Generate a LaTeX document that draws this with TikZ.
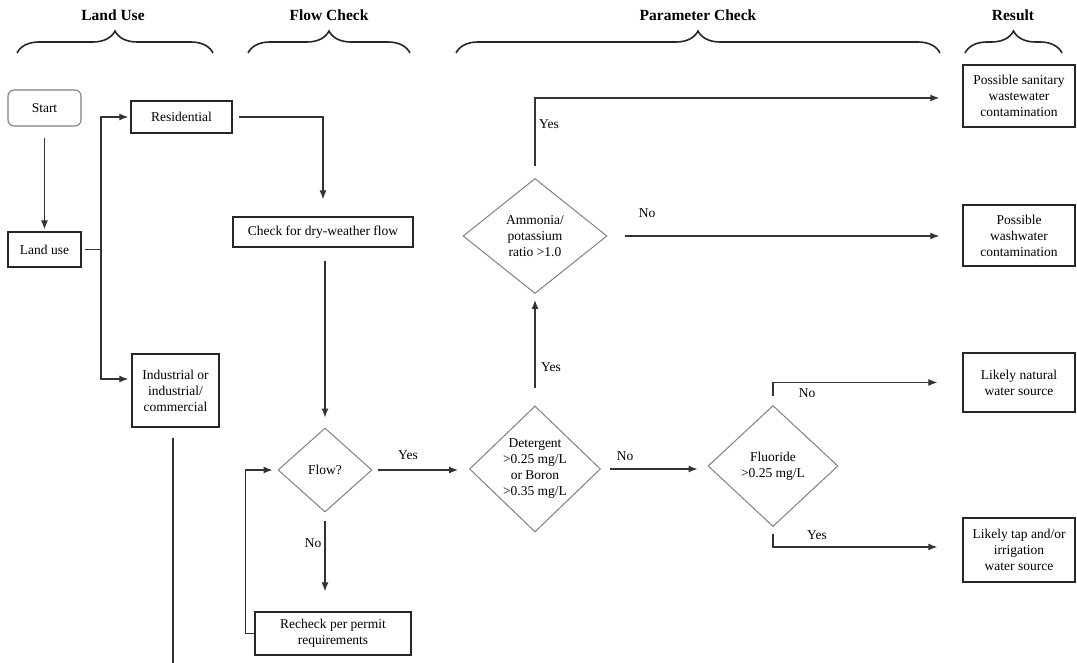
\documentclass[tikz,border=0pt]{standalone}
\usepackage{fontspec}
\setmainfont{Liberation Serif}
\usetikzlibrary{shapes.geometric,arrows.meta,decorations.pathreplacing}
\begin{document}
\begin{tikzpicture}[x=1pt,y=-1pt,
  every node/.style={font=\fontsize{13.5}{16}\selectfont, text=black, align=center},
  box/.style={draw=black!85, line width=1.4pt, inner sep=0pt},
  rbox/.style={draw=black!50, line width=1.1pt, rounded corners=6pt, inner sep=0pt},
  dia/.style={draw=black!50, line width=1pt, shape=diamond, inner sep=0pt},
  lbl/.style={inner sep=1pt},
  hdr/.style={font=\fontsize{15.5}{18}\selectfont\bfseries, text=black},
  conn/.style={draw=black!80, line width=1.2pt},
  arr/.style={conn, -{Latex[length=9pt,width=7pt]}},
  brc/.style={draw=black!85, line width=1.6pt, decorate, decoration={brace, amplitude=22pt}}]
\useasboundingbox (0,0) rectangle (1077,663);
\fill[white] (0,0) rectangle (1077,663);

% headers and braces
\node[hdr] (hLand) at (113,15) {Land Use};
\node[hdr] (hFlow) at (329,15) {Flow Check};
\node[hdr] (hPar) at (698,15) {Parameter Check};
\node[hdr] (hRes) at (1013,15) {Result};
\draw[brc] (17,53) -- (213,53);
\draw[brc] (248,53) -- (410,53);
\draw[brc] (456,53) -- (940,53);
\draw[brc] (965,53) -- (1062,53);

% nodes
\node[rbox, minimum width=73pt, minimum height=36pt] (start) at (44.5,108) {Start};
\node[box, minimum width=73pt, minimum height=35pt] (landuse) at (44.5,249.5) {Land use};
\node[box, minimum width=101pt, minimum height=32pt] (resid) at (181.5,117) {Residential};
\node[box, minimum width=87pt, minimum height=73pt] (indus) at (175.5,390.5) {Industrial or\\industrial/\\commercial};
\node[box, minimum width=180pt, minimum height=30pt] (check) at (323,232) {Check for dry-weather flow};
\node[dia, minimum width=94pt, minimum height=84pt] (flow) at (325,470) {Flow?};
\node[box, minimum width=156pt, minimum height=43pt] (recheck) at (333,633.5) {Recheck per permit\\requirements};
\node[dia, minimum width=131pt, minimum height=126pt] (deterg) at (535,469) {Detergent\\>0.25 mg/L\\or Boron\\>0.35 mg/L};
\node[dia, minimum width=144pt, minimum height=115pt] (ammonia) at (535,236) {Ammonia/\\potassium\\ratio >1.0};
\node[dia, minimum width=130pt, minimum height=121pt] (fluoride) at (773,466) {Fluoride\\>0.25 mg/L};
\node[box, minimum width=112pt, minimum height=62pt] (sanitary) at (1019,96) {Possible sanitary\\wastewater\\contamination};
\node[box, minimum width=112pt, minimum height=61pt] (wash) at (1019,235.5) {Possible\\washwater\\contamination};
\node[box, minimum width=112pt, minimum height=59pt] (natural) at (1019,382.5) {Likely natural\\water source};
\node[box, minimum width=112pt, minimum height=64pt] (tap) at (1019,550) {Likely tap and/or\\irrigation\\water source};

% labels
\node[lbl] (yes1) at (408,455) {Yes};
\node[lbl] (no1) at (313,543) {No};
\node[lbl] (no2) at (625,456) {No};
\node[lbl] (yes2) at (551,367) {Yes};
\node[lbl] (yes3) at (549,124) {Yes};
\node[lbl] (no3) at (647,213) {No};
\node[lbl] (no4) at (807,393) {No};
\node[lbl] (yes4) at (817,535) {Yes};

% connectors
\coordinate (j) at (101,249.5);
\coordinate (bot) at (173,663);
\draw[arr, shorten <=11.5, shorten >=2] (start) -- (landuse);
\draw[conn, shorten <=3] (landuse.east) -- (j);
\draw[arr, shorten >=2] (j) |- (resid.west);
\draw[arr, shorten >=3] (j) |- ([yshift=11.5pt]indus.west);
\draw[conn, shorten <=10] (indus.south -| bot) -- (bot);
\draw[arr, shorten <=6, shorten >=17] (resid.east) -| (check.north);
\draw[arr, shorten <=13, shorten >=10] (check.south -| flow.north) -- (flow.north);
\draw[arr, shorten <=5, shorten >=11] (flow.east) -- (flow.east -| deterg.west);
\draw[arr, shorten <=8, shorten >=20] (flow.south) -- (flow.south |- recheck.north);
\draw[arr, shorten >=5] (recheck.west) -- ++(-9,0) |- (flow.west);
\draw[arr, shorten <=9, shorten >=10] (deterg.east) -- (deterg.east -| fluoride.west);
\draw[arr, shorten <=18, shorten >=6] (deterg.north) -- (ammonia.south);
\draw[arr, shorten <=12, shorten >=23] (ammonia.north) |- ([yshift=-2pt]sanitary.west);
\draw[arr, shorten <=17, shorten >=23] (ammonia.east) -- (ammonia.east -| wash.west);
\draw[arr, shorten <=9, shorten >=25] (fluoride.north) |- (natural.west);
\draw[arr, shorten <=7, shorten >=25] (fluoride.south) |- ([yshift=3pt]tap.west);
\end{tikzpicture}
\end{document}
